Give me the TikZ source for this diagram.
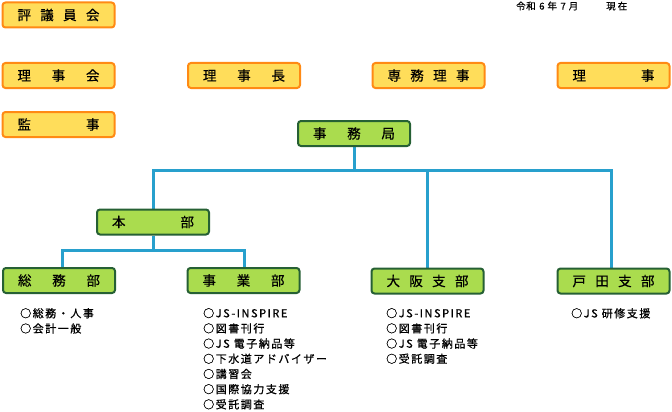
\documentclass[tikz,border=0pt]{standalone}
\usepackage{fontspec}
\setmainfont{Noto Sans CJK JP}
\usetikzlibrary{backgrounds}
\definecolor{ofill}{RGB}{255,221,90}
\definecolor{oline}{RGB}{255,138,20}
\definecolor{gfill}{RGB}{170,220,78}
\definecolor{gline}{RGB}{38,96,52}
\definecolor{conn}{RGB}{40,160,205}
\newcommand\spreadtext[1]{\makebox[82pt][s]{#1}}
\newcommand\boxfont{\fontsize{13.5}{14}\selectfont\addfontfeatures{FakeBold=0.6}}
\newcommand\listfont{\fontsize{11}{15.2}\selectfont\addfontfeatures{LetterSpace=14,FakeBold=0.8}}
\tikzset{
  basebox/.style={line width=2pt, rounded corners=3pt, minimum width=112pt, minimum height=25pt, inner sep=0pt, font=\boxfont},
  obox/.style={basebox, draw=oline, fill=ofill},
  gbox/.style={basebox, draw=gline, fill=gfill},
  connline/.style={draw=conn, line width=3pt},
  listtext/.style={anchor=north west, align=left, inner sep=0pt, font=\listfont}
}
\begin{document}
\begin{tikzpicture}[x=1pt,y=-1pt]
\useasboundingbox (0,0) rectangle (672,412);
% orange boxes
\node[obox] (hyogi) at (58.5,15) {\spreadtext{評\hfill 議\hfill 員\hfill 会}};
\node[obox] (rijikai) at (58.5,75.5) {\spreadtext{理\hfill 事\hfill 会}};
\node[obox] (kanji) at (58.5,124.5) {\spreadtext{監\hfill 事}};
\node[obox] (rijicho) at (244,75.5) {\spreadtext{理\hfill 事\hfill 長}};
\node[obox] (senmu) at (428.5,75.5) {\spreadtext{専\hfill 務\hfill 理\hfill 事}};
\node[obox] (riji) at (613.5,75.5) {\spreadtext{理\hfill 事}};
% green boxes
\node[gbox] (jimu) at (354,133.5) {\spreadtext{事\hfill 務\hfill 局}};
\node[gbox] (honbu) at (153,222) {\spreadtext{本\hfill 部}};
\node[gbox] (somu) at (59,280.5) {\spreadtext{総\hfill 務\hfill 部}};
\node[gbox] (jigyo) at (243.5,280.5) {\spreadtext{事\hfill 業\hfill 部}};
\node[gbox] (osaka) at (427.5,281) {\spreadtext{大\hfill 阪\hfill 支\hfill 部}};
\node[gbox] (toda) at (613.5,281) {\spreadtext{戸\hfill 田\hfill 支\hfill 部}};
% date
\node[anchor=west, inner sep=0pt, font=\fontsize{9.5}{10}\selectfont\addfontfeatures{FakeBold=0.5}] (date) at (516,6) {令\kern0.5pt 和\kern3.5pt 6\kern3pt 年\kern3.5pt 7\kern3pt 月\kern28pt 現\kern2pt 在};
% connectors
\coordinate (bus1) at (354,170);
\coordinate (bus2) at (153,250);
\begin{scope}[on background layer]
\draw[connline] (jimu.south) -- (bus1);
\draw[connline] (honbu.north) |- ([xshift=-2.5pt]toda.north |- bus1) -- ([xshift=-2.5pt]toda.north);
\draw[connline] (osaka.north) -- (osaka.north |- bus1);
\draw[connline] (honbu.south) -- (bus2);
\draw[connline] ([xshift=3pt]somu.north) |- ([xshift=0.5pt]jigyo.north |- bus2) -- ([xshift=0.5pt]jigyo.north);
\end{scope}
% lists
\node[listtext] (l1) at (20,308) {○総務・人事\\○会計一般};
\node[listtext] (l2) at (203,308) {○JS-INSPIRE\\○図書刊行\\○JS 電子納品等\\○下水道アドバイザー\\○講習会\\○国際協力支援\\○受託調査};
\node[listtext] (l3) at (386,308) {○JS-INSPIRE\\○図書刊行\\○JS 電子納品等\\○受託調査};
\node[listtext] (l4) at (571,308) {○JS 研修支援};
\end{tikzpicture}
\end{document}
